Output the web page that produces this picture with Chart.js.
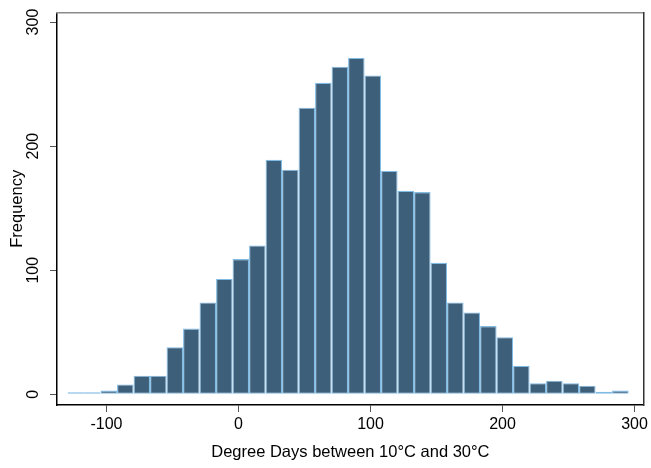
<!DOCTYPE html>
<html>
<head>
<meta charset="utf-8">
<script src="https://cdn.jsdelivr.net/npm/chart.js@4.4.1/dist/chart.umd.min.js"></script>
<style>
  html, body { margin: 0; padding: 0; background: #fff; }
  #wrap { width: 651px; height: 468px; }
</style>
</head>
<body>
<div id="wrap"><canvas id="hist" width="651" height="468"></canvas></div>
<script>
// histogram bins (left edge of each bin) and counts
const binWidth = 12.5;
const binEdges = [-129.5, -117, -104.5, -92, -79.5, -67, -54.5, -42, -29.5, -17,
  -4.5, 8, 20.5, 33, 45.5, 58, 70.5, 83, 95.5, 108,
  120.5, 133, 145.5, 158, 170.5, 183, 195.5, 208, 220.5, 233,
  245.5, 258, 270.5, 283];
const frequency = [1, 1, 3, 8, 15, 15, 38, 53, 74, 93,
  109, 120, 189, 181, 231, 251, 264, 271, 257, 180,
  164, 163, 106, 74, 66, 55, 46, 23, 9, 11,
  9, 7, 2, 3];
const xTicks = [-100, 0, 100, 200, 300];
const yTicks = [0, 100, 200, 300];

const fontFam = '"Liberation Sans", Arial, Helvetica, sans-serif';

const points = binEdges.map((e, i) => ({ x: e + binWidth / 2, y: frequency[i] }));

const ctx = document.getElementById('hist').getContext('2d');
const chart = new Chart(ctx, {
  type: 'bar',
  data: {
    datasets: [{
      label: 'Frequency',
      data: points,
      backgroundColor: '#3e5f7a',
      borderColor: '#80bbe4',
      borderWidth: 1.1,
      inflateAmount: 0,
      minBarLength: 2,
      borderSkipped: false,
      barPercentage: 1,
      categoryPercentage: 1,
      grouped: false
    }]
  },
  options: {
    responsive: false,
    animation: false,
    devicePixelRatio: 1,
    layout: { padding: 0 },
    plugins: { legend: { display: false }, tooltip: { enabled: false } },
    scales: {
      x: {
        type: 'linear',
        position: 'bottom',
        min: -137.5,
        max: 307,
        offset: false,
        afterBuildTicks: s => { s.ticks = xTicks.map(v => ({ value: v })); },
        afterFit: s => { s.height = 63; },
        grid: { drawOnChartArea: false, offset: false, tickLength: 7, color: '#555', lineWidth: 1 },
        border: { display: true, color: '#000', width: 1.5 },
        ticks: { color: '#000', padding: 3, maxRotation: 0, font: { family: fontFam, size: 16 } },
        title: { display: true, text: 'Degree Days between 10°C and 30°C', color: '#000',
          font: { family: fontFam, size: 16.5 }, padding: { top: 0, bottom: 6 } }
      },
      y: {
        type: 'linear',
        position: 'left',
        min: -8.6,
        max: 307.6,
        afterBuildTicks: s => { s.ticks = yTicks.map(v => ({ value: v })); },
        afterFit: s => { s.width = 57; },
        grid: { drawOnChartArea: false, tickLength: 7, color: '#555', lineWidth: 1 },
        border: { display: true, color: '#000', width: 1.5 },
        ticks: { color: '#000', padding: 3, minRotation: 90, maxRotation: 90, crossAlign: 'center',
          font: { family: fontFam, size: 16 } },
        title: { display: true, text: 'Frequency', color: '#000',
          font: { family: fontFam, size: 16.5 }, padding: { top: 8, bottom: 0 } }
      },
      x2: {
        type: 'linear',
        position: 'top',
        min: 0, max: 1,
        afterFit: s => { s.height = 10; },
        ticks: { display: false },
        grid: { drawOnChartArea: false, drawTicks: false },
        border: { display: true, color: '#8a8a8a', width: 1.5 }
      },
      y2: {
        type: 'linear',
        position: 'right',
        min: 0, max: 1,
        afterFit: s => { s.width = 3; },
        ticks: { display: false },
        grid: { drawOnChartArea: false, drawTicks: false },
        border: { display: true, color: '#333', width: 1.5 }
      }
    }
  }
});
</script>
</body>
</html>
